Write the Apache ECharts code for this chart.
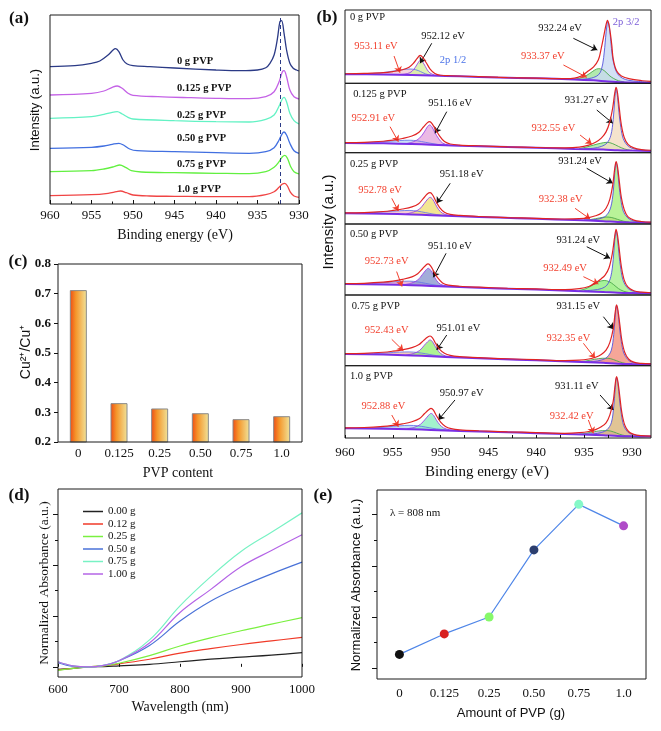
<!DOCTYPE html>
<html><head><meta charset="utf-8">
<script src="https://cdn.jsdelivr.net/npm/echarts@6/dist/echarts.min.js"></script>
<style>html,body{margin:0;padding:0;background:#fff}#c{width:661px;height:731px}</style>
</head><body><div id="c"></div>
<script>
const SERIF='"Liberation Serif","Times New Roman",serif';
const SANS='"Liberation Sans",Arial,sans-serif';

// ---------- (a) Cu 2p spectra ----------
const aLabels=['0 g PVP','0.125 g PVP','0.25 g PVP','0.50 g PVP','0.75 g PVP','1.0 g PVP'];
const aLabelLevel=[143,116,89,66,40,15];
const aLabelE=944.7;
const aRefLine=932.25;
const aCurve0=[[960,137.3],[957,138.3],[955,140.7],[954,143],[953,149],[952.4,154],[952.1,155.3],[951.7,152.3],[951.2,144],[950.7,140],[950,138.3],[948,137.3],[945,136],[940,134],[937,133.3],[935,134],[934,136.3],[933.5,140.7],[933,149],[932.6,165.3],[932.3,182.3],[932.1,183.3],[931.8,170.7],[931.5,154],[931.1,140.7],[930.7,135.7],[930.3,134],[930,133]];
const aCurve1=[[960,109],[955,110.7],[953.5,113],[952.5,116.7],[951.9,118],[951.3,115.7],[950.6,110.7],[950,108.7],[947,107.3],[943,106.3],[940,105.7],[936,105.3],[934,107.3],[933,112.3],[932.4,122.3],[932,132.3],[931.8,133.3],[931.5,127.3],[931.1,114],[930.6,107.3],[930,105]];
const aCurve2=[[960,85.7],[955,87.3],[953.5,89.7],[952.5,91.7],[951.9,92.3],[951.3,90],[950.6,86.7],[950,85],[945,83.3],[940,82.3],[936,82],[934,84.7],[933,89],[932.4,98],[932,105.3],[931.8,106.7],[931.5,102.3],[931.1,90.7],[930.6,83.3],[930,80]];
const aCurve3=[[960,55.7],[955,56.7],[953.5,58],[952.5,59.7],[951.7,60.7],[951.1,58.7],[950.4,55],[949.5,53.3],[945,52.3],[940,51.3],[936,50.7],[934,52.3],[933,56.3],[932.4,64],[932,70.7],[931.8,72],[931.5,69],[931.1,60.7],[930.6,53.3],[930,50.7]];
const aCurve4=[[960,32.3],[955,33.3],[953.5,35],[952.3,37.3],[951.6,39],[950.9,36.7],[950.2,33.3],[949,32],[945,31.3],[940,30.7],[936,30.3],[934,32.3],[933,36.7],[932.4,42.3],[932,47.3],[931.7,48.7],[931.4,45.7],[931,37.3],[930.6,32.3],[930,30]];
const aCurve5=[[960,8.3],[955,9.3],[953,10.7],[952,12.3],[951.5,13],[950.8,11.3],[950,9],[948,8],[945,7.7],[940,7.3],[936,7.3],[934,9.3],[933,12.3],[932.4,16.7],[932,20],[931.7,20.7],[931.4,18],[931,11.3],[930.6,8],[930,6.7]];
const aCurves=[aCurve0,aCurve1,aCurve2,aCurve3,aCurve4,aCurve5];
const aColors=['#2b3a86','#c462e6','#63f2c4','#416fe0','#62f040','#f04444'];

// ---------- (b) fitted spectra (percent of sub-panel height) ----------
const bBg0=[[960,12.5],[956,12],[953,11.3],[951,10.5],[948,9.5],[944,8],[940,6.8],[936,5.3],[934,4],[932.5,2.5],[931,1.5],[928,0.8]];
const bEnv0=[[960,13],[958,13.5],[956,14.5],[955,16],[954,18.5],[953.3,22],[952.8,28],[952.45,34],[952.15,38],[951.85,35],[951.5,28],[951.1,19.5],[950.6,13.5],[950,11],[949,10.3],[946,9],[943,7.8],[940,7],[937,6.3],[936,7],[935.3,10],[934.7,15.5],[934,22.5],[933.5,32],[933.2,48],[932.9,67],[932.7,80],[932.55,86],[932.4,80],[932.25,68],[932.1,52],[931.95,33],[931.6,17],[931.1,10],[930.2,6],[928.9,3.5],[928,2.5]];
const bCuA0=[[935.5,5],[934.5,6.5],[934,8],[933.5,11.5],[933.2,18],[932.95,35],[932.75,62],[932.6,80],[932.5,84],[932.35,76],[932.2,57],[932.05,38],[931.8,22],[931.5,13],[931,7],[930.3,4],[929.3,2.5],[928,1.5]];
const bCuB0=[[936.2,5.3],[935.6,6.5],[935,9],[934.4,13.5],[933.9,18],[933.5,20],[933.1,19],[932.7,15],[932.3,10],[931.9,6.5],[931.4,3.5],[930.8,2]];
const bCuC0=[[954.5,11.8],[953.8,12.5],[953.2,14.5],[952.8,19],[952.5,25],[952.25,30],[952.1,31.5],[951.9,29.5],[951.6,23],[951.3,16.5],[950.9,12.5],[950.4,10.8],[949.8,10]];
const bCuD0=[[958.5,12.5],[957,13.5],[955.8,15],[954.8,17],[954,18.5],[953.2,19.5],[952.6,18.5],[952.1,16],[951.6,13],[951,11],[950.3,10.2]];

const bBg1=[[960,14],[956,13.5],[953,12.5],[951,11.5],[948,10],[944,8.5],[940,7],[936,5.5],[933,4.5],[931.5,3.5],[930,3],[928,2.5]];
const bEnv1=[[960,14.5],[958,15],[956,16.5],[955,18],[954,20.5],[953,24],[952.3,29],[951.8,37],[951.4,43],[951.15,44.7],[950.9,42],[950.5,33],[950.1,24],[949.6,16],[949,12.5],[948,11],[946,10],[943,8.5],[940,7.5],[937,7],[935.5,8],[934.5,11],[933.8,15],[933.2,21],[932.7,30],[932.3,45],[932,65],[931.8,85],[931.65,94],[931.5,86],[931.3,62],[931.1,40],[930.8,22],[930.4,12],[929.8,7],[929,4.5],[928,3.5]];
const bCuA1=[[935,5.5],[934,6.5],[933.2,9],[932.6,14],[932.2,25],[931.95,48],[931.8,75],[931.65,92],[931.5,80],[931.35,58],[931.15,36],[930.9,20],[930.5,11],[930,6.5],[929.2,4],[928,3]];
const bCuB1=[[935.5,6],[934.8,8],[934,11],[933.3,13.5],[932.6,15],[932,13],[931.4,9],[930.8,5.5],[930.2,3.5]];
const bCuC1=[[953.6,13],[952.8,16],[952.2,21],[951.7,30],[951.4,37],[951.15,40],[950.9,37],[950.6,29],[950.2,20],[949.8,14],[949.2,11],[948.5,10.2]];
const bCuD1=[[958.5,14.3],[957,15],[955.5,16.5],[954.3,17.5],[953.3,18],[952.4,17],[951.6,15],[950.8,13],[950,11.5],[949.2,10.8]];

const bBg2=[[960,15],[956,14.3],[953,13.3],[951,12.3],[948,10.8],[944,9],[940,7.3],[936,5.5],[933,4],[931.5,2.8],[930,2.2],[928,1.8]];
const bEnv2=[[960,15.5],[958,16],[956,17.5],[955,19],[954,21],[953,24],[952.3,28.5],[951.8,36],[951.4,42],[951.1,43.9],[950.85,41],[950.5,32],[950.1,23],[949.6,16.5],[949,13.5],[948,12],[946,10.5],[943,9],[940,8],[937,7],[935.5,7.5],[934.5,9],[933.8,11.5],[933.2,15],[932.7,22],[932.3,35],[932,55],[931.8,77],[931.65,87.4],[931.5,80],[931.3,58],[931.1,37],[930.8,20],[930.4,10],[929.8,5.5],[929,3.5],[928,2.5]];
const bCuA2=[[935,5.5],[934,6],[933.2,8],[932.6,13],[932.2,24],[931.95,45],[931.8,70],[931.65,86],[931.5,76],[931.35,55],[931.15,34],[930.9,18],[930.5,9.5],[930,5],[929.2,3],[928,2]];
const bCuB2=[[935,5.3],[934.2,6.5],[933.4,8.5],[932.7,9.8],[932.1,9],[931.5,6.5],[930.9,4],[930.3,2.6]];
const bCuC2=[[953.6,14],[952.8,17],[952.2,21],[951.7,29],[951.35,35],[951.1,37.4],[950.85,35],[950.55,28],[950.2,20],[949.8,15],[949.2,12.3],[948.5,11.5]];
const bCuD2=[[958.5,15],[957,16],[955.5,17.5],[954.3,18.5],[953.3,19],[952.4,18],[951.6,16],[950.8,14],[950,12.5],[949.2,11.7]];

const bBg3=[[960,15.5],[956,14.8],[953,13.8],[951,12.8],[948,11.2],[944,9.3],[940,7.6],[936,5.8],[933,4.3],[931.5,3.3],[930,2.8],[928,2.4]];
const bEnv3=[[960,16],[958,16.5],[956,18],[955,19.5],[954,22],[953,25.5],[952.4,30],[951.9,37],[951.55,42],[951.3,43.7],[951.05,41],[950.7,33],[950.3,24],[949.8,17],[949.2,14],[948,12.3],[946,11],[943,9.5],[940,8.5],[937,7.5],[935.5,9],[934.5,12],[933.8,17],[933.2,23],[932.8,28],[932.4,38],[932.05,58],[931.8,82],[931.65,92.5],[931.5,84],[931.3,62],[931.1,40],[930.8,21],[930.4,11],[929.8,6],[929,4],[928,3.2]];
const bCuA3=[[935,6],[934,7],[933.2,9],[932.6,14],[932.2,26],[931.95,50],[931.8,76],[931.65,90],[931.5,79],[931.35,58],[931.15,36],[930.9,20],[930.5,10.5],[930,6],[929.2,4],[928,3]];
const bCuB3=[[935.5,6.5],[934.8,9],[934.1,14],[933.5,18.5],[932.9,20.5],[932.4,19],[931.9,14.5],[931.4,9],[930.9,5.5],[930.3,3.5]];
const bCuC3=[[953.8,14.5],[953,17],[952.4,21],[951.9,29],[951.55,35],[951.3,37.6],[951.05,35],[950.75,28],[950.4,20],[950,15],[949.4,12.8],[948.7,12]];
const bCuD3=[[958.5,15.5],[957,16.5],[955.5,18],[954.3,19],[953.3,19.5],[952.4,18.5],[951.6,16.5],[950.8,14.5],[950,13],[949.2,12.2]];

const bBg4=[[960,16.5],[956,15.7],[953,14.5],[951,13.3],[948,11.5],[944,9.5],[940,7.6],[936,5.6],[933,4],[931.5,2.8],[930,2.3],[928,2]];
const bEnv4=[[960,17],[958,17.5],[956,19],[955,20.5],[954,22.5],[953,25.5],[952.3,29.5],[951.8,35.5],[951.35,40.5],[951.1,42],[950.85,39.5],[950.5,31],[950.1,23],[949.6,17.5],[949,14.5],[948,12.8],[946,11.3],[943,9.8],[940,8.5],[937,7.3],[935.5,7.8],[934.5,9.5],[933.8,12],[933.2,16],[932.7,22],[932.3,33],[931.95,52],[931.75,75],[931.6,85.9],[931.45,78],[931.25,57],[931.05,36],[930.75,19],[930.35,9.5],[929.8,5],[929,3.2],[928,2.5]];
const bCuA4=[[935,5.5],[934,6],[933.2,8],[932.6,12],[932.15,22],[931.9,44],[931.75,68],[931.6,84.5],[931.45,75],[931.3,55],[931.1,34],[930.85,18],[930.45,9],[930,5],[929.2,3],[928,2.2]];
const bCuB4=[[935.5,5.6],[934.7,7],[933.9,9],[933.1,10.5],[932.5,10.5],[931.9,8.5],[931.3,5.5],[930.7,3.3],[930.1,2.5]];
const bCuC4=[[953.6,15],[952.8,17.5],[952.2,21.5],[951.7,29],[951.35,34],[951.1,36.4],[950.85,34],[950.55,27],[950.2,20],[949.8,15.5],[949.2,13],[948.5,12.3]];
const bCuD4=[[958.5,16.3],[957,17],[955.5,18.3],[954.3,19.2],[953.3,19.5],[952.4,18.6],[951.6,17],[950.8,15],[950,13.6],[949.2,12.8]];

const bBg5=[[960,13.4],[956,12.8],[953,12],[951,11.2],[948,9.8],[944,8.2],[940,6.7],[936,5.2],[933,3.8],[931.5,2.8],[930,2.3],[928,2]];
const bEnv5=[[960,14],[958,14.5],[956,16],[955,17.5],[954,19.5],[953,22.5],[952.2,27],[951.7,33.5],[951.25,39],[951,41],[950.75,38.5],[950.4,30],[950,22],[949.5,16],[948.9,13],[948,11.3],[946,10],[943,8.6],[940,7.5],[937,6.5],[935.5,7.3],[934.5,9],[933.8,11.5],[933.2,15.5],[932.7,21],[932.3,32],[931.95,51],[931.75,74],[931.6,85],[931.45,77],[931.25,56],[931.05,35],[930.75,18],[930.35,9],[929.8,5],[929,3.2],[928,2.5]];
const bCuA5=[[935,5.3],[934,5.8],[933.2,7.5],[932.6,11.5],[932.15,21],[931.9,43],[931.75,67],[931.6,83.5],[931.45,74],[931.3,54],[931.1,33],[930.85,17],[930.45,8.5],[930,5],[929.2,3],[928,2.2]];
const bCuB5=[[935.5,5.3],[934.7,6.8],[933.9,8.8],[933.1,10.2],[932.5,10.2],[931.9,8.3],[931.3,5.3],[930.7,3.2],[930.1,2.5]];
const bCuC5=[[953.5,12.8],[952.7,15],[952.1,19],[951.6,26],[951.25,31.5],[951,34],[950.75,31.5],[950.45,25],[950.1,18.5],[949.7,14],[949.1,11.5],[948.4,10.5]];
const bCuD5=[[958.5,13.2],[957,14],[955.5,15.5],[954.3,16.8],[953.3,17.5],[952.4,16.8],[951.6,15.2],[950.8,13.3],[950,12],[949.2,11]];

// annotations: [text, energy, level, colour key, align]
const bText0=[['0 g PVP',959.48,90.4,'k','left'],['952.12 eV',949.75,63.6,'k'],['953.11 eV',956.76,50,'r'],['2p 1/2',948.7,31.8,'b'],['932.24 eV',937.51,75,'k'],['933.37 eV',939.32,37.2,'r'],['2p 3/2',930.6,82.7,'p']];
const bText1=[['0.125 g PVP',959.15,84.1,'k','left'],['951.16 eV',949.0,71.2,'k'],['952.91 eV',957.04,49.6,'r'],['931.27 eV',934.72,75.9,'k'],['932.55 eV',938.21,35.2,'r']];
const bText2=[['0.25 g PVP',959.48,84.1,'k','left'],['951.18 eV',947.8,70.1,'k'],['952.78 eV',956.34,47.7,'r'],['931.24 eV',935.42,87.4,'k'],['932.38 eV',937.44,34.9,'r']];
const bText3=[['0.50 g PVP',959.48,85.5,'k','left'],['951.10 eV',949.02,69,'k'],['952.73 eV',955.64,46.9,'r'],['931.24 eV',935.6,77.5,'k'],['932.49 eV',936.99,37.6,'r']];
const bText4=[['0.75 g PVP',959.3,84.4,'k','left'],['951.01 eV',948.14,52.9,'k'],['952.43 eV',955.64,50.5,'r'],['931.15 eV',935.6,83.5,'k'],['932.35 eV',936.64,38.8,'r']];
const bText5=[['1.0 g PVP',959.48,84.8,'k','left'],['950.97 eV',947.8,61.4,'k'],['952.88 eV',955.99,43.3,'r'],['931.11 eV',935.76,71.9,'k'],['932.42 eV',936.29,29.5,'r']];
// arrows: [fromE, fromLevel, toE, toLevel, colour key]
const bArrow0=[[950.93,54.6,952.15,27.3,'k'],[954.87,37.2,954.25,14.5,'r'],[936.12,61.4,933.61,45.4,'k'],[937.16,25,934.72,8.2,'r']];
const bArrow1=[[949.36,59.1,950.59,28,'k'],[955.29,37.5,954.42,15.9,'r'],[933.67,61.5,932.0,42.4,'k'],[935.42,25.5,934.2,12.5,'r']];
const bArrow2=[[949.0,57.1,950.41,29,'k'],[955.11,36,954.42,18.2,'r'],[934.72,78.1,932.0,57.1,'k'],[935.94,22,934.37,7,'r']];
const bArrow3=[[949.43,58.7,950.76,24.9,'k'],[954.6,33,954.04,12,'r'],[934.72,68,932.28,51.7,'k'],[935.07,25.8,933.5,15.5,'r']];
const bArrow4=[[949.36,43.4,950.41,22.2,'k'],[955.11,37.3,953.9,21.2,'r'],[932.98,69.3,931.93,51.5,'k'],[935.07,31.7,933.85,10.5,'r']];
const bArrow5=[[948.5,52.6,950.24,24.9,'k'],[955.11,31.8,954.42,15.6,'r'],[933.33,59.5,931.93,38.7,'k'],[934.55,24.9,934.03,6.5,'r']];

const bBg=[bBg0,bBg1,bBg2,bBg3,bBg4,bBg5];
const bEnv=[bEnv0,bEnv1,bEnv2,bEnv3,bEnv4,bEnv5];
const bCuA=[bCuA0,bCuA1,bCuA2,bCuA3,bCuA4,bCuA5];
const bCuB=[bCuB0,bCuB1,bCuB2,bCuB3,bCuB4,bCuB5];
const bCuC=[bCuC0,bCuC1,bCuC2,bCuC3,bCuC4,bCuC5];
const bCuD=[bCuD0,bCuD1,bCuD2,bCuD3,bCuD4,bCuD5];
const bText=[bText0,bText1,bText2,bText3,bText4,bText5];
const bArrow=[bArrow0,bArrow1,bArrow2,bArrow3,bArrow4,bArrow5];
const bTickLabels=[930,935,940,945,950,955,960];
const bTicks=[930,932.5,935,937.5,940,942.5,945,947.5,950,952.5,955,957.5,960];
const fillA=['#c9d9f2','#f2dcc0','#a8f07e','#a6f08e','#f2907e','#d9b57a'];
const fillB=['#9fe39a','#a5e8a0','#f0a070','#8ef080','#e8a0c0','#c8a0e0'];
const fillC=['#d6f0a0','#e6a8de','#f0e078','#8c98d0','#98f078','#8cf0c0'];
const fillD=['#f2c8d4','#bcd8f2','#f2c0c8','#e8a8c8','#f0c0a8','#b8d8f0'];

// ---------- (c) Cu2+/Cu+ ratio ----------
const cCats=['0','0.125','0.25','0.50','0.75','1.0'];
const cRatio=[0.712,0.331,0.313,0.297,0.277,0.287];

// ---------- (d) absorbance spectra ----------
const dNames=['0.00 g','0.12 g','0.25 g','0.50 g','0.75 g','1.00 g'];
const dWave=[600,625,650,675,700,750,800,850,900,950,1000];
const d000=[-0.05,-0.03,0,0.005,0.02,0.05,0.1,0.15,0.19,0.23,0.28];
const d012=[-0.06,-0.03,0,0.02,0.06,0.15,0.27,0.36,0.44,0.51,0.58];
const d025=[-0.07,-0.03,0,0.02,0.07,0.22,0.41,0.57,0.71,0.84,0.97];
const d050=[0.08,0.01,0,0.03,0.12,0.42,0.9,1.29,1.58,1.83,2.06];
const d075=[0.1,0.02,0,0.03,0.12,0.53,1.2,1.77,2.27,2.65,3.03];
const d100=[0.1,0.02,0,0.03,0.12,0.47,1.07,1.52,1.97,2.29,2.6];
const dSeries=[d000,d012,d025,d050,d075,d100];
const dColors=['#222222','#f03a28','#7af040','#4a72d8','#78f2c4','#b464e6'];

// ---------- (e) absorbance at 808 nm ----------
const eCats=['0','0.125','0.25','0.50','0.75','1.0'];
const eValues=[0.27,0.67,1.0,2.31,3.2,2.78];
const eColors=['#111111','#d82020','#86f86a','#2c3e6e','#86f8c8','#b04cc8'];

// ================= build option =================
const grid=[], xAxis=[], yAxis=[], series=[];
const K={k:'#111',r:'#f2402e',b:'#4a72e8',p:'#7a5cd8'};

// (a)
grid.push({left:50,top:15,width:249,height:189,show:true,borderColor:'#1a1a1a',borderWidth:1,z:10});
xAxis.push({gridIndex:0,type:'value',min:930,max:960,interval:5,inverse:true,z:10,
  axisLine:{show:false},splitLine:{show:false},
  axisTick:{show:true,inside:true,length:4,lineStyle:{color:'#111'}},
  minorTick:{show:true,splitNumber:2,length:2.5,lineStyle:{color:'#111'}},
  axisLabel:{margin:5,fontFamily:SERIF,fontSize:13,color:'#111'}});
yAxis.push({gridIndex:0,type:'value',min:0,max:189,show:false});
aCurves.forEach((d,i)=>{
  const s={type:'line',xAxisIndex:0,yAxisIndex:0,data:d,smooth:0.35,showSymbol:false,
    lineStyle:{color:aColors[i],width:1.3},z:3,
    markPoint:{symbol:'rect',symbolSize:1,itemStyle:{color:'rgba(0,0,0,0)'},silent:true,
      label:{show:true,position:'inside',align:'left',formatter:aLabels[i],fontFamily:SERIF,fontWeight:'bold',fontSize:10.5,color:'#111'},
      data:[{coord:[aLabelE,aLabelLevel[i]]}]}};
  if(i===0){s.markLine={silent:true,symbol:['none','none'],label:{show:false},lineStyle:{type:[4,3],color:'#2b3a86',width:1},data:[{xAxis:aRefLine}]};}
  series.push(s);
});

// (b)
const bTop=[10,83.3,152.7,224,295,365.7], bBot=[83.3,152.7,224,295,365.7,438];
for(let i=0;i<6;i++){
  const gi=1+i;
  grid.push({left:345,width:306,top:bTop[i],height:bBot[i]-bTop[i],show:true,borderColor:'#1a1a1a',borderWidth:1,z:10});
  const last=i===5;
  xAxis.push({gridIndex:gi,type:'value',min:928,max:960,inverse:true,z:10,
    axisLine:{show:false},splitLine:{show:false},
    axisTick:last?{show:true,inside:true,length:3,customValues:bTicks,lineStyle:{color:'#111'}}:{show:false},
    axisLabel:last?{show:true,customValues:bTickLabels,margin:8,fontFamily:SERIF,fontSize:13,color:'#111'}:{show:false}});
  yAxis.push({gridIndex:gi,type:'value',min:0,max:100,show:false});
  const comp=(data,fill,line)=>({type:'line',xAxisIndex:gi,yAxisIndex:gi,data,smooth:0.35,showSymbol:false,z:2,
    lineStyle:{color:line,width:0.9},areaStyle:{color:fill,opacity:0.8,origin:'start'}});
  series.push(comp(bCuD[i],fillD[i],'#6a7ae8'));
  series.push(comp(bCuB[i],fillB[i],'#4aa84a'));
  series.push(comp(bCuC[i],fillC[i],'#9a44e6'));
  series.push(comp(bCuA[i],fillA[i],'#5454dc'));
  // white cover below background
  series.push({type:'line',xAxisIndex:gi,yAxisIndex:gi,data:bBg[i],smooth:0.3,showSymbol:false,z:3,
    lineStyle:{width:0},areaStyle:{color:'#ffffff',opacity:1,origin:'start'}});
  series.push({type:'line',xAxisIndex:gi,yAxisIndex:gi,data:bBg[i],smooth:0.3,showSymbol:false,z:4,
    lineStyle:{color:'#7a2ee6',width:2}});
  series.push({type:'line',xAxisIndex:gi,yAxisIndex:gi,data:bEnv[i],smooth:0.35,showSymbol:false,z:5,
    lineStyle:{color:'#e02424',width:1.2},
    markPoint:{symbol:'rect',symbolSize:1,itemStyle:{color:'rgba(0,0,0,0)'},silent:true,
      data:bText[i].map(t=>({coord:[t[1],t[2]],label:{show:true,position:'inside',align:t[4]||'center',formatter:t[0],
        fontFamily:SERIF,fontSize:10.5,color:K[t[3]]}}))},
    markLine:{silent:true,symbol:['none','arrow'],symbolSize:6,label:{show:false},
      data:bArrow[i].map(a=>[{coord:[a[0],a[1]],lineStyle:{color:K[a[4]],width:1,type:'solid'}},{coord:[a[2],a[3]]}])}});
}

// (c)
grid.push({left:58,top:264,width:244,height:178,show:true,borderColor:'#1a1a1a',borderWidth:1,z:10});
xAxis.push({gridIndex:7,type:'category',data:cCats,z:10,axisLine:{show:false},axisTick:{show:false},
  axisLabel:{margin:5,fontFamily:SERIF,fontSize:13,color:'#111'}});
yAxis.push({gridIndex:7,type:'value',min:0.2,max:0.8,interval:0.1,z:10,splitLine:{show:false},
  axisLine:{show:false},axisTick:{show:true,length:4,lineStyle:{color:'#111'}},
  axisLabel:{margin:7,fontFamily:SERIF,fontWeight:'bold',fontSize:13,color:'#111',formatter:v=>v.toFixed(1)}});
series.push({type:'bar',xAxisIndex:7,yAxisIndex:7,data:cRatio,barWidth:17,
  itemStyle:{borderColor:'#8a8a8a',borderWidth:1,
    color:{type:'linear',x:0,y:0,x2:1,y2:0,colorStops:[{offset:0,color:'#ee4a14'},{offset:0.35,color:'#f5962a'},{offset:1,color:'#f0e49c'}]}}});

// (d)
grid.push({left:58,top:489,width:244,height:188,show:true,borderColor:'#1a1a1a',borderWidth:1,z:10});
xAxis.push({gridIndex:8,type:'value',min:600,max:1000,interval:100,z:10,axisLine:{show:false},splitLine:{show:false},
  axisTick:{show:true,inside:true,length:3,lineStyle:{color:'#111'}},
  axisLabel:{margin:6,fontFamily:SERIF,fontSize:13,color:'#111',formatter:v=>String(v)}});
yAxis.push({gridIndex:8,type:'value',min:-0.2,max:3.5,z:10,splitLine:{show:false},axisLine:{show:false},
  axisTick:{show:true,length:5,customValues:[0,1,2,3],lineStyle:{color:'#111'}},axisLabel:{show:false}});
yAxis.push({gridIndex:8,type:'value',min:-0.2,max:3.5,position:'left',z:10,splitLine:{show:false},axisLine:{show:false},
  axisTick:{show:true,length:3,customValues:[0.5,1.5,2.5],lineStyle:{color:'#111'}},axisLabel:{show:false}});
dSeries.forEach((v,i)=>{
  series.push({type:'line',name:dNames[i],xAxisIndex:8,yAxisIndex:9,data:dWave.map((w,j)=>[w,v[j]]),
    smooth:0.4,showSymbol:false,lineStyle:{color:dColors[i],width:1.2},itemStyle:{color:dColors[i]},z:3});
});

// (e)
grid.push({left:377,top:490,width:269,height:189,show:true,borderColor:'#1a1a1a',borderWidth:1,z:10});
xAxis.push({gridIndex:9,type:'category',data:eCats,z:10,axisLine:{show:false},axisTick:{show:false},
  axisLabel:{margin:8,fontFamily:SERIF,fontSize:13,color:'#111'}});
yAxis.push({gridIndex:9,type:'value',min:-0.21,max:3.48,z:10,splitLine:{show:false},axisLine:{show:false},
  axisTick:{show:true,length:5,customValues:[0,1,2,3],lineStyle:{color:'#111'}},axisLabel:{show:false}});
yAxis.push({gridIndex:9,type:'value',min:-0.21,max:3.48,position:'left',z:10,splitLine:{show:false},axisLine:{show:false},
  axisTick:{show:true,length:3,customValues:[0.5,1.5,2.5],lineStyle:{color:'#111'}},axisLabel:{show:false}});
series.push({type:'line',xAxisIndex:9,yAxisIndex:11,
  data:eValues.map((v,i)=>({value:v,itemStyle:{color:eColors[i]}})),
  symbol:'circle',symbolSize:9,showSymbol:true,lineStyle:{color:'#4f86e8',width:1.2},z:3});

const txt=(t,x,y,font,opts={})=>({type:'text',x,y,rotation:opts.rot||0,z:20,
  style:{text:t,font,fill:opts.color||'#111',align:opts.align||'center',verticalAlign:'middle'}});
const graphic=[
  txt('(a)',19,19,'bold 17px '+SERIF),
  txt('(b)',327,18,'bold 17px '+SERIF),
  txt('(c)',18,262,'bold 17px '+SERIF),
  txt('(d)',19,496,'bold 17px '+SERIF),
  txt('(e)',323,496,'bold 17px '+SERIF),
  txt('Intensity (a.u.)',35,110,'13px '+SANS,{rot:Math.PI/2}),
  txt('Binding energy (eV)',175,235,'14px '+SERIF),
  txt('Intensity (a.u.)',329,222,'15px '+SANS,{rot:Math.PI/2}),
  txt('Binding energy (eV)',487,472,'15px '+SERIF),
  txt('Cu²⁺/Cu⁺',26,352,'14px '+SANS,{rot:Math.PI/2}),
  txt('PVP content',178,473,'14px '+SERIF),
  txt('Normalized Absorbance (a.u.)',44,583,'13.5px '+SERIF,{rot:Math.PI/2}),
  txt('Wavelength (nm)',180,707,'14px '+SERIF),
  txt('Normalized Absorbance (a.u.)',356,585,'13px '+SANS,{rot:Math.PI/2}),
  txt('Amount of PVP (g)',511,713,'13px '+SANS),
  txt('λ = 808 nm',390,513,'11px '+SERIF,{align:'left'})
];

const chart=echarts.init(document.getElementById('c'),null,{renderer:'canvas'});
chart.setOption({
  animation:false,backgroundColor:'#ffffff',
  textStyle:{fontFamily:SERIF},
  grid,xAxis,yAxis,series,graphic,
  legend:{data:dNames,orient:'vertical',left:78,top:501,icon:'rect',itemWidth:20,itemHeight:1.5,itemGap:1.5,
    selectedMode:false,textStyle:{fontFamily:SERIF,fontSize:11,color:'#111'}}
});
</script></body></html>
